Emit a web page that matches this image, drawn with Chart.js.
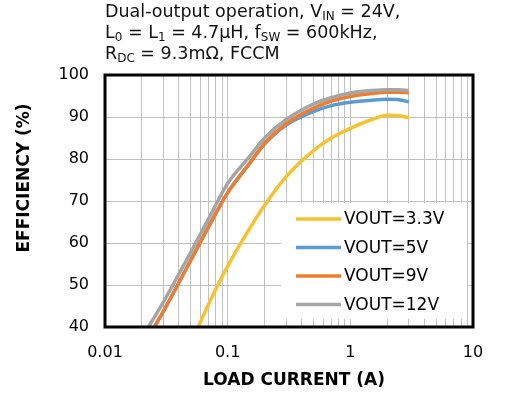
<!DOCTYPE html>
<html>
<head>
<meta charset="utf-8">
<script src="https://cdn.jsdelivr.net/npm/chart.js@4.4.1/dist/chart.umd.min.js"></script>
<style>
  body { margin: 0; background: #fff; }
  #wrap { position: relative; width: 523px; height: 406px; }
  #title {
    position: absolute; left: 105px; top: 1px;
    font: 17.5px "DejaVu Sans", sans-serif; line-height: 21px; color: #111;
  }
  #title sub { font-size: 12px; vertical-align: -3px; line-height: 0; }
</style>
</head>
<body>
<div id="wrap">
  <canvas id="c" width="523" height="406"></canvas>
  <div id="title">
    Dual-output operation, V<sub>IN</sub> = 24V,<br>
    L<sub>0</sub> = L<sub>1</sub> = 4.7μH, f<sub>SW</sub> = 600kHz,<br>
    R<sub>DC</sub> = 9.3mΩ, FCCM
  </div>
</div>
<script>
const loadCurrent = [0.02, 0.03, 0.05, 0.07, 0.1, 0.15, 0.2, 0.3, 0.5, 0.7, 1, 1.5, 2, 2.5, 3];
const eff3v3 = [null, null, 36, 45.5, 54.5, 63.3, 69, 75.8, 82, 85, 87.3, 89.4, 90.4, 90.3, 89.8];
const eff5v  = [35, 43.8, 55.9, 63.9, 72, 78.8, 83.6, 88.1, 91.3, 92.7, 93.5, 94, 94.2, 94.1, 93.6];
const eff9v  = [35, 43.8, 55.9, 63.9, 72, 78.9, 83.7, 88.4, 92.1, 93.8, 94.9, 95.6, 95.9, 95.9, 95.8];
const eff12v = [37.5, 46, 57.8, 65.8, 74.2, 80.5, 85, 89.4, 93.1, 94.6, 95.7, 96.3, 96.5, 96.5, 96.3];

const seriesLabels = ["VOUT=3.3V", "VOUT=5V", "VOUT=9V", "VOUT=12V"];
const seriesColors = ["#F5C232", "#5B9BD5", "#ED7D31", "#A5A5A5"];
const xTickLabels = [0.01, 0.1, 1, 10];
const yTickLabels = [40, 50, 60, 70, 80, 90, 100];
const xTitle = "LOAD CURRENT (A)";
const yTitle = "EFFICIENCY (%)";

const FONT = '"DejaVu Sans", sans-serif';

// log grid: 1..9 in each decade
const xGrid = [];
for (let d = 0; d < xTickLabels.length - 1; d++) {
    for (let m = 1; m < 10; m++) xGrid.push(+(xTickLabels[d] * m).toPrecision(3));
}
xGrid.push(xTickLabels[xTickLabels.length - 1]);

const toPoints = arr => loadCurrent.map((x, i) => ({ x: x, y: arr[i] }));
const allSeries = [eff3v3, eff5v, eff9v, eff12v];

const datasets = allSeries.map((arr, i) => ({
    label: seriesLabels[i],
    data: toPoints(arr),
    borderColor: seriesColors[i],
    backgroundColor: seriesColors[i],
    borderWidth: 3.5,
    pointRadius: 0,
    fill: false,
    cubicInterpolationMode: "monotone",
    order: allSeries.length - i
}));

// frame, axis titles and inset legend
const framePlugin = {
    id: "frame",
    afterDraw(chart) {
        const ctx = chart.ctx;
        const a = chart.chartArea;
        ctx.save();

        // legend box
        const lx = a.left + 176, ly = a.top + 128, lw = 186, lh = 116;
        ctx.fillStyle = "#fff";
        ctx.fillRect(lx, ly, lw, lh);
        ctx.font = "17px " + FONT;
        ctx.textBaseline = "middle";
        seriesLabels.forEach((lab, i) => {
            const y = ly + 16 + i * 28.5;
            ctx.strokeStyle = seriesColors[i];
            ctx.lineWidth = 3.5;
            ctx.beginPath();
            ctx.moveTo(lx + 15, y);
            ctx.lineTo(lx + 60, y);
            ctx.stroke();
            ctx.fillStyle = "#000";
            ctx.fillText(lab, lx + 63, y + 1);
        });

        // axis titles
        ctx.fillStyle = "#000";
        ctx.font = "bold 17px " + FONT;
        ctx.textAlign = "center";
        ctx.fillText(xTitle, 294, 381);
        ctx.translate(24, 178);
        ctx.rotate(-Math.PI / 2);
        ctx.fillText(yTitle, 0, 1);
        ctx.setTransform(1, 0, 0, 1, 0, 0);
        ctx.scale(chart.currentDevicePixelRatio, chart.currentDevicePixelRatio);

        ctx.strokeStyle = "#000";
        ctx.lineWidth = 3;
        ctx.strokeRect(a.left, a.top, a.right - a.left, a.bottom - a.top);
        ctx.restore();
    }
};

new Chart(document.getElementById("c"), {
    type: "line",
    data: { datasets: datasets },
    options: {
        responsive: false,
        animation: false,
        layout: { padding: { top: 75, right: 50, left: 0, bottom: 0 } },
        plugins: {
            legend: { display: false },
            tooltip: { enabled: false }
        },
        scales: {
            x: {
                type: "logarithmic",
                min: 0.01,
                max: 10,
                afterBuildTicks: s => { s.ticks = xGrid.map(v => ({ value: v })); },
                afterFit: s => { s.height = 79; },
                grid: { color: "#c0c0c0", lineWidth: 1, drawTicks: false },
                border: { display: false },
                ticks: {
                    autoSkip: false,
                    maxRotation: 0,
                    padding: 16,
                    color: "#000",
                    font: { family: FONT, size: 16 },
                    callback: v => xTickLabels.includes(v) ? String(v) : ""
                }
            },
            y: {
                min: 40,
                max: 100,
                afterFit: s => { s.width = 105; },
                grid: { color: "#c0c0c0", lineWidth: 1, drawTicks: false },
                border: { display: false },
                ticks: {
                    stepSize: 5,
                    padding: 16,
                    color: "#000",
                    font: { family: FONT, size: 16 },
                    callback: v => yTickLabels.includes(v) ? String(v) : ""
                }
            }
        }
    },
    plugins: [framePlugin]
});
</script>
</body>
</html>
